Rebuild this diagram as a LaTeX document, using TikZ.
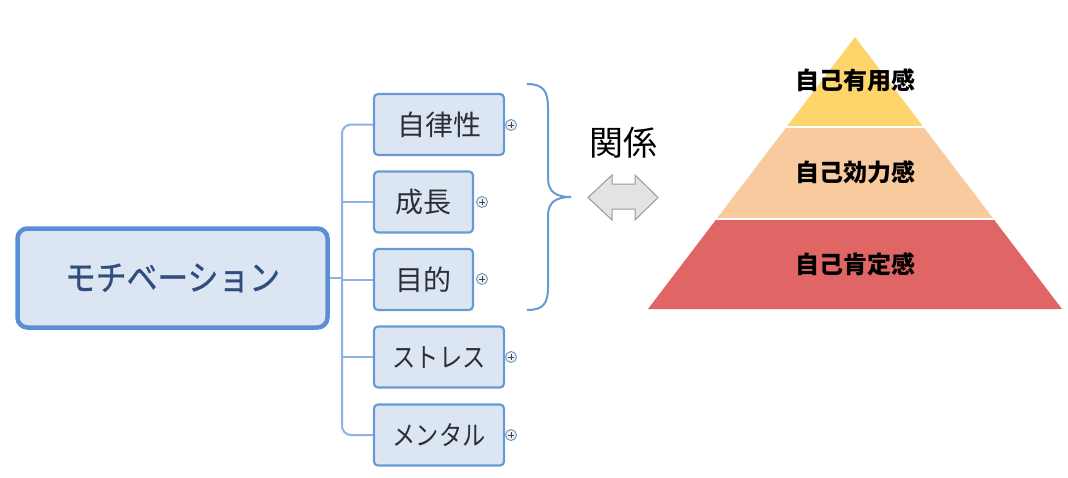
\documentclass[tikz,border=0pt]{standalone}
\usepackage{fontspec}
\newfontfamily\jp{Noto Sans CJK JP}
\newfontfamily\jpn[FakeStretch=0.86]{Noto Sans CJK JP}
\newfontfamily\jpm[FakeStretch=0.88,FakeBold=0.8]{Noto Sans CJK JP}
\usetikzlibrary{calc}
\definecolor{boxfill}{HTML}{DCE6F2}
\definecolor{boxline}{HTML}{6A9AD6}
\definecolor{mainline}{HTML}{5A8FD6}
\definecolor{conncol}{HTML}{8DB3E2}
\definecolor{maintext}{HTML}{2F4D7E}
\definecolor{childtext}{HTML}{2A2E3A}
\definecolor{pyrY}{HTML}{FDD56A}
\definecolor{pyrP}{HTML}{F8CA9E}
\definecolor{pyrR}{HTML}{E06666}
\tikzset{
  mainbox/.style={draw=mainline, line width=4.5pt, fill=boxfill, rounded corners=10pt,
    minimum width=310pt, minimum height=99pt, inner sep=0pt,
    font=\jpm\fontsize{35}{35}\selectfont, text=maintext},
  childbox/.style={draw=boxline, line width=2.2pt, fill=boxfill, rounded corners=4pt,
    minimum height=61pt, inner sep=0pt, font=\jp\fontsize{28}{28}\selectfont, text=childtext},
  katabox/.style={childbox, font=\jpn\fontsize{27}{27}\selectfont},
  conn/.style={draw=conncol, line width=2pt},
  pluscirc/.style={circle, draw=boxline!70!gray, fill=boxfill!50!white, line width=0.9pt,
    minimum size=11pt, inner sep=0pt},
  pyrtext/.style={font=\jp\bfseries\fontsize{24}{24}\selectfont, text=black}
}
\newcommand{\plusmark}[2]{%
  \node[pluscirc] (#1) at (#2) {};
  \draw[line width=1pt, black!75] ($(#1)+(-3,0)$) -- ($(#1)+(3,0)$) ($(#1)+(0,-3)$) -- ($(#1)+(0,3)$);}
\begin{document}
\begin{tikzpicture}[x=1pt,y=-1pt]
\fill[white] (0,0) rectangle (1068,477);
\useasboundingbox (0,0) rectangle (1068,477);
% trunk coordinate
\coordinate (trunk) at (342,0);
% nodes
\node[mainbox] (main) at (172.5,278) {モチベーション};
\node[childbox, minimum width=130pt] (b1) at (439,124.5) {自律性};
\node[childbox, minimum width=99pt] (b2) at (423.5,202) {成長};
\node[childbox, minimum width=99pt] (b3) at (423.5,279.5) {目的};
\node[katabox, minimum width=130pt] (b4) at (439,357) {ストレス};
\node[katabox, minimum width=130pt] (b5) at (439,435) {メンタル};
% connectors
\draw[conn, rounded corners=9pt] (b1.west) -| (trunk |- b5.west) -- (b5.west);
\draw[conn] (trunk |- b2.west) -- (b2.west);
\draw[conn] (trunk |- b4.west) -- (b4.west);
\draw[conn] (main.east) -- (trunk |- main.east);
\draw[conn] (trunk |- b3.west) -- (b3.west);
% plus marks
\plusmark{p1}{511,125}
\plusmark{p2}{482,202}
\plusmark{p3}{482,279}
\plusmark{p4}{511,357}
\plusmark{p5}{511,435}
% brace
\draw[boxline, line width=2pt] (527,84) .. controls (544,84) and (548,92) .. (548,108) -- (548,178)
  .. controls (548,192) and (556,197) .. (571,197)
  .. controls (556,197) and (548,202) .. (548,216) -- (548,287)
  .. controls (548,303) and (544,310) .. (527,310);
% relation text
\node[font=\jp\fontsize{34}{34}\selectfont, text=black] (rel) at (623,143) {関係};
% double arrow
\draw[fill=black!11, draw=black!40, line width=1pt] (588,197.5) -- (612,175) -- (612,184) -- (635,184) -- (635,175)
  -- (658,197.5) -- (635,220) -- (635,209) -- (612,209) -- (612,220) -- cycle;
% pyramid
\coordinate (apex) at (855,37);
\coordinate (BL) at (648,309);
\coordinate (BR) at (1062,309);
\coordinate (L1) at ($(apex)!0.331!(BL)$);
\coordinate (R1) at ($(apex)!0.331!(BR)$);
\coordinate (L2) at ($(apex)!0.669!(BL)$);
\coordinate (R2) at ($(apex)!0.669!(BR)$);
\fill[pyrY] (apex) -- (L1) -- (R1) -- cycle;
\fill[pyrP] (L1) -- (L2) -- (R2) -- (R1) -- cycle;
\fill[pyrR] (L2) -- (BL) -- (BR) -- (R2) -- cycle;
\draw[white, line width=2pt] ($(L1)+(-3,0)$) -- ($(R1)+(3,0)$) ($(L2)+(-3,0)$) -- ($(R2)+(3,0)$);
\node[pyrtext] (t1) at (855,80) {自己有用感};
\node[pyrtext] (t2) at (855,172) {自己効力感};
\node[pyrtext] (t3) at (855,264) {自己肯定感};
\end{tikzpicture}
\end{document}
